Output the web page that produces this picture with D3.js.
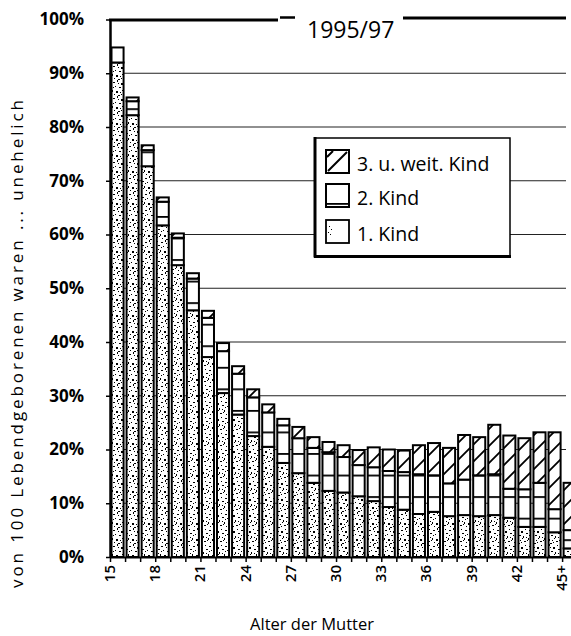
<!DOCTYPE html>
<html><head><meta charset="utf-8">
<script src="https://cdn.jsdelivr.net/npm/d3@7"></script>
<style>html,body{margin:0;padding:0;background:#fff;overflow:hidden}</style>
</head><body><svg id="c" width="571" height="636"></svg>
<script>
// ---- data ----
const ages = ["15","16","17","18","19","20","21","22","23","24","25","26","27","28","29","30",
              "31","32","33","34","35","36","37","38","39","40","41","42","43","44","45+"];
const firstChild  = [92.0,82.2,72.7,61.7,54.3,45.9,37.2,30.5,26.5,22.5,20.5,17.5,15.6,13.8,12.3,12.0,
                     11.3,10.4,9.3,8.8,8.0,8.4,7.6,7.8,7.6,7.8,7.3,5.6,5.6,4.6,1.6];
const secondChild = [2.8,2.6,3.0,4.4,5.1,5.9,7.3,7.8,7.6,7.2,6.4,7.0,6.5,6.5,7.2,6.6,
                     5.8,6.3,6.7,7.0,7.4,6.8,6.1,6.6,7.6,7.6,5.4,7.0,8.2,4.3,3.4];
const thirdPlus   = [0.0,0.7,0.9,0.8,0.8,1.0,1.3,1.5,1.4,1.5,1.5,1.2,2.1,2.0,1.9,2.2,
                     2.8,3.7,4.0,4.0,5.4,6.0,6.6,8.3,7.1,9.2,9.9,9.5,9.4,14.3,8.8];
const seriesKeys  = ["first","second","third"];
const seriesNames = ["1. Kind","2. Kind","3. u. weit. Kind"];
const yTicks = [0,10,20,30,40,50,60,70,80,90,100];
const gridValues = [10,20,30,40,50,60,70,80,90];
const xLabelAges = ["15","18","21","24","27","30","33","36","39","42","45+"];
const titleText = "1995/97";
const yTitle = "von 100 Lebendgeborenen waren ... unehelich";
const xTitle = "Alter der Mutter";

// ---- layout ----
const svg = d3.select("#c");
const plotLeft = 110, plotBottom = 557, plotTop = 19.5, step = 15.07;
const rows = ages.map((a,i)=>({age:a, first:firstChild[i], second:secondChild[i], third:thirdPlus[i]}));
const stacked = d3.stack().keys(seriesKeys)(rows);

const x = d3.scaleBand().domain(ages).range([plotLeft, plotLeft + ages.length*step]).padding(0);
const xIdx = d3.scaleLinear().domain([0, ages.length]).range(x.range());
const y = d3.scaleLinear().domain([0,100]).range([plotBottom, plotTop]);

// ---- patterns ----
const defs = svg.append("defs");
const stip = defs.append("pattern").attr("id","stip").attr("patternUnits","userSpaceOnUse")
  .attr("width",16).attr("height",16);
stip.append("rect").attr("width",16).attr("height",16).attr("fill","#fff");
const dots = [[1,2,2,1],[5,0,1,2],[9,3,2,2],[13,1,1,1],[3,6,1,1],[7,7,2,1],[11,8,1,2],[14,5,2,1],
  [0,10,1,2],[4,11,2,2],[8,12,1,1],[12,13,2,1],[2,14,1,1],[6,15,2,1],[10,10,1,1],[15,12,1,1],
  [14,9,1,1],[6,3,1,1],[1,7,1,1],[9,14,1,1]];
stip.selectAll("rect.d").data(dots).join("rect").attr("class","d")
  .attr("x",d=>d[0]).attr("y",d=>d[1]).attr("width",d=>d[2]).attr("height",d=>d[3]).attr("fill","#000");

const lines2 = defs.append("pattern").attr("id","lines2").attr("patternUnits","userSpaceOnUse")
  .attr("x",0).attr("y",0.5).attr("width",20).attr("height",21.55);
lines2.append("rect").attr("width",20).attr("height",21.55).attr("fill","#fff");
lines2.append("rect").attr("y",0).attr("width",20).attr("height",1.8).attr("fill","#000");

const hatch = defs.append("pattern").attr("id","hatch").attr("patternUnits","userSpaceOnUse")
  .attr("width",17).attr("height",17);
hatch.append("rect").attr("width",17).attr("height",17).attr("fill","#fff");
hatch.append("path").attr("d","M0,17L17,0M-4,4L4,-4M13,21L21,13")
  .attr("stroke","#000").attr("stroke-width",1.8);

const fills = {first:"url(#stip)", second:"url(#lines2)", third:"url(#hatch)"};

// ---- gridlines ----
svg.append("g").selectAll("line").data(gridValues).join("line")
  .attr("x1",plotLeft).attr("x2",566).attr("y1",d=>y(d)).attr("y2",d=>y(d))
  .attr("stroke","#222").attr("stroke-width",1.2);

// ---- bars ----
const barG = svg.append("g");
stacked.forEach(layer=>{
  barG.append("g").selectAll("rect").data(layer.filter(d=>d[1]-d[0]>0)).join("rect")
    .attr("x",d=>x(d.data.age)+1.5)
    .attr("width",x.bandwidth()-3)
    .attr("y",d=>y(d[1]))
    .attr("height",d=>y(d[0])-y(d[1]))
    .attr("fill",fills[layer.key])
    .attr("stroke","#000").attr("stroke-width",2);
});

// ---- axes ----
const yAxis = svg.append("g").attr("transform",`translate(${plotLeft},0)`)
  .call(d3.axisLeft(y).tickValues(yTicks).tickSize(4).tickSizeOuter(0).tickPadding(22)
        .tickFormat(d=>d+"%"));
yAxis.select(".domain").attr("stroke","#000").attr("stroke-width",2.5);
yAxis.selectAll(".tick line").attr("stroke","#000").attr("stroke-width",1.5);
yAxis.selectAll("text").attr("font-family","'Open Sans', sans-serif").attr("font-weight","bold")
  .attr("font-size",17).attr("fill","#000");

const xAxis = svg.append("g").attr("transform",`translate(0,${plotBottom})`)
  .call(d3.axisBottom(xIdx).tickValues(d3.range(ages.length)).tickSize(5).tickSizeOuter(0)
        .tickFormat(i=>xLabelAges.includes(ages[i]) ? ages[i] : ""));
xAxis.select(".domain").attr("stroke","#000").attr("stroke-width",2);
xAxis.selectAll(".tick line").attr("stroke","#000").attr("stroke-width",1.5);
xAxis.selectAll("text").attr("font-family","'Open Sans', sans-serif").attr("font-weight",600)
  .attr("font-size",15).attr("fill","#000")
  .attr("transform","rotate(-90)").attr("x",-8).attr("y",0).attr("dy","0.3em")
  .style("text-anchor","end");

// ---- top frame and title ----
svg.append("line").attr("x1",plotLeft-1).attr("x2",278).attr("y1",20).attr("y2",20)
  .attr("stroke","#000").attr("stroke-width",3);
svg.append("line").attr("x1",280).attr("x2",295).attr("y1",17.5).attr("y2",17.5)
  .attr("stroke","#000").attr("stroke-width",2.5);
svg.append("line").attr("x1",403).attr("x2",566).attr("y1",18).attr("y2",18)
  .attr("stroke","#000").attr("stroke-width",3);
svg.append("text").attr("x",307).attr("y",37.5).text(titleText)
  .attr("font-family","'Open Sans', sans-serif").attr("font-size",23).attr("fill","#000");

// ---- axis titles ----
svg.append("text").attr("transform","translate(23,344) rotate(-90)")
  .attr("text-anchor","middle").text(yTitle)
  .attr("font-family","'Open Sans', sans-serif").attr("font-size",17).attr("fill","#000")
  .attr("textLength",488).attr("lengthAdjust","spacing");
svg.append("text").attr("x",312).attr("y",630).attr("text-anchor","middle").text(xTitle)
  .attr("font-family","'Open Sans', sans-serif").attr("font-size",16.5).attr("fill","#000");

// ---- legend ----
const lg = svg.append("g");
lg.append("rect").attr("x",315).attr("y",138).attr("width",195).attr("height",118)
  .attr("fill","#fff").attr("stroke","#000").attr("stroke-width",1.5);
lg.append("line").attr("x1",315).attr("x2",315).attr("y1",137).attr("y2",257.5)
  .attr("stroke","#000").attr("stroke-width",3);
lg.append("line").attr("x1",314).attr("x2",511).attr("y1",256.5).attr("y2",256.5)
  .attr("stroke","#000").attr("stroke-width",3);
const legendItems = [
  {key:"third", name:seriesNames[2], y:150},
  {key:"second", name:seriesNames[1], y:184},
  {key:"first", name:seriesNames[0], y:220}
];
legendItems.forEach(it=>{
  const g = lg.append("g");
  if(it.key==="third"){
    g.append("rect").attr("x",326).attr("y",it.y).attr("width",23).attr("height",23)
      .attr("fill","#fff").attr("stroke","#000").attr("stroke-width",2);
    g.append("path").attr("d",`M${328},${it.y+21}L${347},${it.y+2}M${327},${it.y+7}L${333},${it.y+1}`)
      .attr("stroke","#000").attr("stroke-width",2);
  } else if(it.key==="second"){
    g.append("rect").attr("x",326).attr("y",it.y).attr("width",23).attr("height",23)
      .attr("fill","#fff").attr("stroke","#000").attr("stroke-width",2);
    g.append("rect").attr("x",326).attr("y",it.y+19).attr("width",23).attr("height",1.8).attr("fill","#000");
  } else {
    g.append("rect").attr("x",326).attr("y",it.y).attr("width",23).attr("height",23)
      .attr("fill","#fff").attr("stroke","#000").attr("stroke-width",1.8);
    [[329,it.y+6],[331,it.y+9],[328,it.y+12],[330,it.y+14]].forEach(p=>
      g.append("rect").attr("x",p[0]).attr("y",p[1]).attr("width",1).attr("height",1).attr("fill","#000"));
  }
  g.append("text").attr("x",357).attr("y",it.y+21).text(it.name)
    .attr("font-family","'Open Sans', sans-serif").attr("font-size",19.5).attr("fill","#000");
});
</script>
</body></html>
